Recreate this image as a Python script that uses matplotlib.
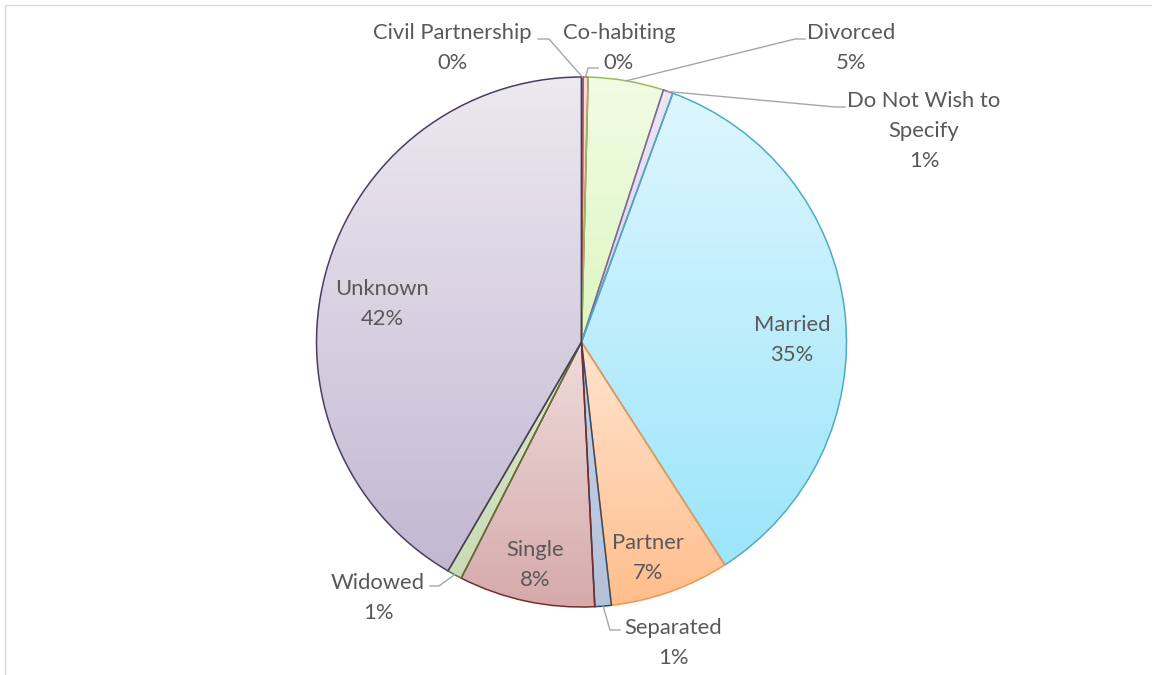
import numpy as np
import matplotlib.pyplot as plt
from matplotlib.colors import to_rgb
from matplotlib.lines import Line2D

W, H = 1152, 675

# marital status breakdown (share of records, %)
categories = ["Civil Partnership", "Co-habiting", "Divorced", "Do Not Wish to\nSpecify",
              "Married", "Partner", "Separated", "Single", "Widowed", "Unknown"]
shares = [0.1, 0.3, 4.6, 0.6, 35.3, 7.3, 1.0, 8.3, 0.9, 41.6]

# outline colour, gradient top colour, gradient bottom colour
edge_colors = ["#4F81BD", "#C0504D", "#9BBB59", "#8064A2", "#4BACC6",
               "#F79646", "#2C4D75", "#772C2A", "#5F7530", "#4D3B62"]
top_colors = ["#DCE6F4", "#F6DEDD", "#F1FCE4", "#ECE6F5", "#DEF6FD",
              "#FFE4D0", "#C8D2E4", "#EFDCDC", "#D9E6CC", "#ECE9F0"]
bottom_colors = ["#B9CAE6", "#EDBDBC", "#DDF6C0", "#DCD0EE", "#9CE5FB",
                 "#FFBE8C", "#B4C2DA", "#D6AAAB", "#C9DCB6", "#C2B8D2"]

CENTER = (581.5, 342)
RADIUS = 265
TEXT = "#595959"
LEADER = "#A6A6A6"
FONT = "Lato"
FS = 15.8
LS = 1.65


def px(x, y):
    """pixel position (origin top-left) -> data coords"""
    return x, H - y


fig = plt.figure(figsize=(W / 100, H / 100), dpi=100)
ax = fig.add_axes([0, 0, 1, 1])

wedges, _ = ax.pie(shares, startangle=90, counterclock=False,
                   center=px(*CENTER), radius=RADIUS, frame=True,
                   wedgeprops=dict(linewidth=1.1, joinstyle="miter"))

# vertical gradient fill per slice, clipped to the wedge
for w, ec, c0, c1 in zip(wedges, edge_colors, top_colors, bottom_colors):
    x0, y0, x1, y1 = w.get_path().get_extents().extents
    t = np.linspace(0, 1, 256)[:, None]
    grad = (1 - t) * np.array(to_rgb(c1)) + t * np.array(to_rgb(c0))
    im = ax.imshow(grad[:, None, :], extent=(x0, x1, y0, y1), origin="lower",
                   aspect="auto", interpolation="bilinear", zorder=1)
    im.set_clip_path(w)
    w.set_facecolor("none")
    w.set_edgecolor(ec)
    w.set_zorder(2)
ax.set_xlim(0, W)
ax.set_ylim(0, H)
ax.axis("off")


def pct(v):
    return f"{v / sum(shares) * 100:.0f}%"


def anchor(i):
    """point on the rim at the middle of slice i"""
    w = wedges[i]
    ang = np.deg2rad((w.theta1 + w.theta2) / 2)
    cx, cy = w.center
    return cx + w.r * np.cos(ang), cy + w.r * np.sin(ang)


# labels inside the large slices
inside = {9: (382, 304), 4: (792, 340), 5: (648, 558), 7: (535, 565)}
for i, (x, y) in inside.items():
    ax.text(*px(x, y), f"{categories[i]}\n{pct(shares[i])}", ha="center", va="center",
            color=TEXT, fontsize=FS, family=FONT, linespacing=LS, zorder=5)

# labels outside the pie with leader lines (label centre, elbow, line end at label)
outside = {
    0: ((452, 48), (549, 39), (538, 39)),
    1: ((619, 48), (588, 68), (598, 68)),
    2: ((851, 48), (795, 39), (805, 39)),
    3: ((924, 131), (835, 107), (845, 107)),
    6: ((673, 643), (610, 630), (620, 630)),
    8: ((378, 598), (439, 586), (430, 586)),
}
for i, (lab, elbow, end) in outside.items():
    ax.text(*px(*lab), f"{categories[i]}\n{pct(shares[i])}", ha="center", va="center",
            color=TEXT, fontsize=FS, family=FONT, linespacing=LS, zorder=5)
    ax_, ay_ = anchor(i)
    ex, ey = px(*elbow)
    tx, ty = px(*end)
    ax.plot([ax_, ex, tx], [ay_, ey, ty], color=LEADER, linewidth=1.0, zorder=4,
            solid_joinstyle="miter")

# chart area border (left and top edges visible)
fig.add_artist(Line2D([4.5 / W, 4.5 / W, 1], [0, 1 - 5 / H, 1 - 5 / H],
                      transform=fig.transFigure, color="#D9D9D9", linewidth=1.0))

fig.savefig("out.png", dpi=100, facecolor="white")
